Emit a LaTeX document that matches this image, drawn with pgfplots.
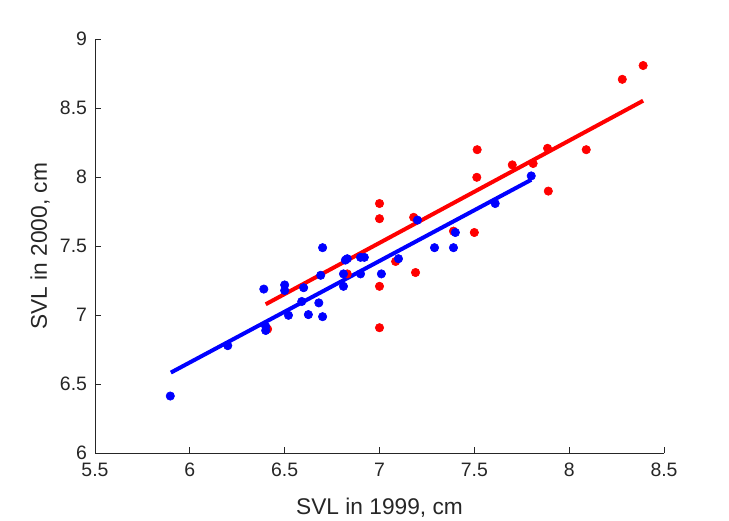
\documentclass[border=0pt]{standalone}
\usepackage{fontspec}
\setmainfont{Liberation Sans}
\usepackage{pgfplots}
\pgfplotsset{compat=1.18}
\definecolor{axgray}{rgb}{0.15,0.15,0.15}
\begin{document}
\begin{tikzpicture}
\path[use as bounding box] (-47.5bp,-33.85bp) rectangle (317bp,226.65bp);
\begin{axis}[
  at={(0,0)}, anchor=south west,
  scale only axis, width=284.5bp, height=207bp,
  xmin=5.5, xmax=8.5, ymin=6, ymax=9,
  xtick={5.5,6,6.5,7,7.5,8,8.5},
  ytick={6,6.5,7,7.5,8,8.5,9},
  axis x line*=bottom, axis y line*=left,
  axis line style={axgray, line width=0.5bp},
  tick style={axgray, line width=0.5bp},
  tick align=inside,
  major tick length=3bp,
  /pgf/number format/assume math mode=true,
  ticklabel style={font=\fontsize{9.75}{11}\selectfont, text=axgray},
  xticklabel style={yshift=-1.5bp},
  yticklabel style={xshift=-0.5bp},
  label style={font=\fontsize{11.4}{13}\selectfont, text=axgray},
  xlabel={SVL in 1999, cm},
  ylabel={SVL in 2000, cm},
  xlabel style={at={(axis description cs:0.5,-0.1321)}, anchor=center},
  ylabel style={at={(axis description cs:-0.0967,0.5)}, anchor=center},
  clip=false,
]
% red points
\addplot[red, only marks, mark=*, mark size=2.1bp, mark options={draw=red, fill=red, line width=0.3bp}] coordinates {
(6.41,6.90) (6.83,7.30) (7.00,7.81) (7.00,7.70) (7.00,7.21) (7.00,6.91)
(7.18,7.71) (7.085,7.39) (7.19,7.31) (7.39,7.61) (7.50,7.60) (7.515,8.20)
(7.513,8.00) (7.70,8.09) (7.81,8.10) (7.886,8.21) (7.89,7.90) (8.09,8.20)
(8.28,8.71) (8.39,8.81)
};
\addplot[red, line width=2bp] coordinates {(6.40,7.08) (8.39,8.555)};
% blue points
\addplot[blue, only marks, mark=*, mark size=2.1bp, mark options={draw=blue, fill=blue, line width=0.3bp}] coordinates {
(5.897,6.415) (6.20,6.78) (6.40,6.92) (6.40,6.89) (6.39,7.19) (6.50,7.22)
(6.50,7.18) (6.60,7.20) (6.52,7.00) (6.625,7.005) (6.70,6.99) (6.59,7.10)
(6.68,7.09) (6.69,7.29) (6.70,7.49) (6.82,7.40) (6.83,7.41) (6.81,7.30)
(6.81,7.21) (6.90,7.42) (6.92,7.42) (6.90,7.30) (7.01,7.30) (7.10,7.41)
(7.20,7.69) (7.29,7.49) (7.39,7.49) (7.40,7.60) (7.61,7.81) (7.80,8.01)
};
\addplot[blue, line width=2bp] coordinates {(5.90,6.585) (7.80,7.982)};
\end{axis}
\end{tikzpicture}
\end{document}
